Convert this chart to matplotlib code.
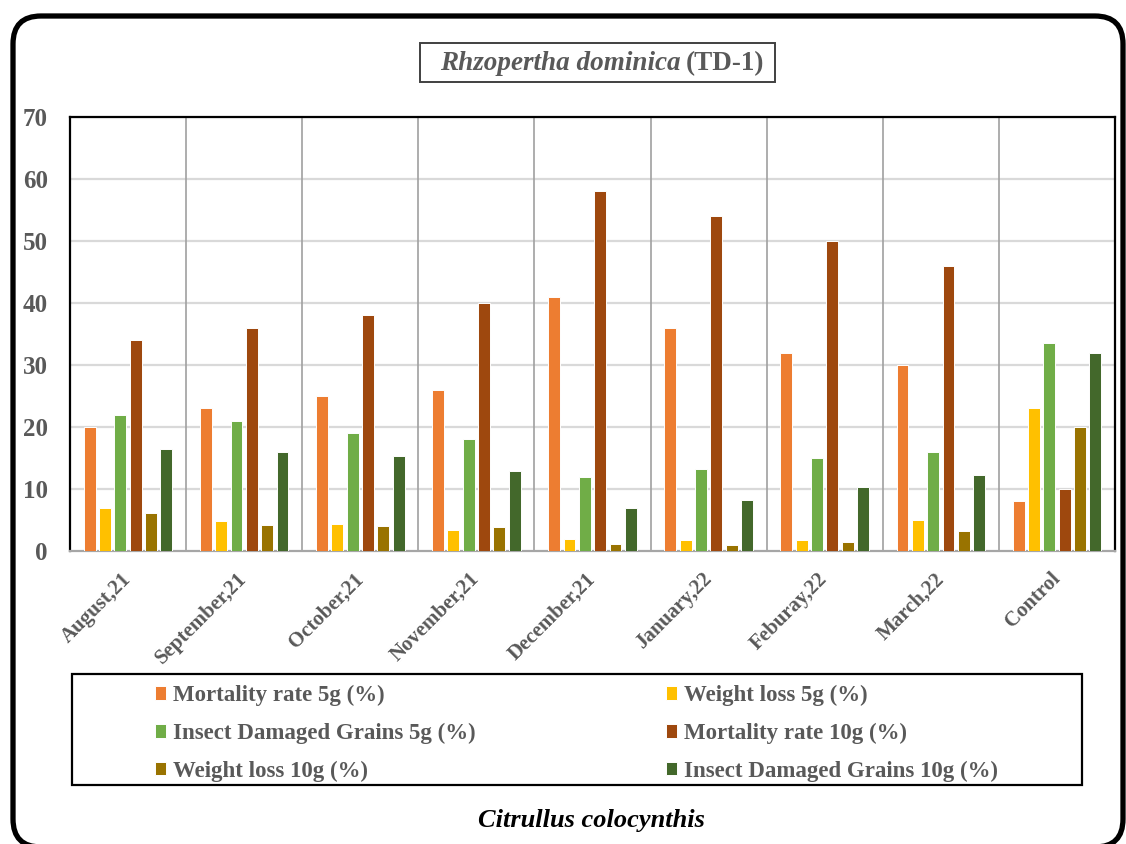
import matplotlib
matplotlib.use("Agg")
import matplotlib.pyplot as plt
import numpy as np
from matplotlib.patches import FancyBboxPatch, Rectangle

# ---- data -------------------------------------------------------------
categories = ["August,21", "September,21", "October,21", "November,21",
              "December,21", "January,22", "Feburay,22", "March,22", "Control"]

mortality_5g = [20, 23, 25, 26, 41, 36, 32, 30, 8]
weight_loss_5g = [7.0, 4.9, 4.4, 3.4, 2.0, 1.7, 1.8, 5.0, 23]
damaged_5g = [22, 21, 19, 18, 12, 13.2, 15, 16, 33.5]
mortality_10g = [34, 36, 38, 40, 58, 54, 50, 46, 10]
weight_loss_10g = [6.1, 4.2, 4.0, 3.9, 1.1, 0.9, 1.4, 3.3, 20]
damaged_10g = [16.4, 15.9, 15.4, 12.9, 7.0, 8.2, 10.3, 12.2, 32]

series_labels = ["Mortality rate 5g (%)", "Weight loss 5g (%)",
                 "Insect Damaged Grains 5g (%)", "Mortality rate 10g (%)",
                 "Weight loss 10g (%)", "Insect Damaged Grains 10g (%)"]
series_values = [mortality_5g, weight_loss_5g, damaged_5g,
                 mortality_10g, weight_loss_10g, damaged_10g]
series_colors = ["#ED7D31", "#FFC000", "#70AD47", "#9E480E", "#997300", "#43682B"]

y_ticks = [0, 10, 20, 30, 40, 50, 60, 70]

# ---- style ------------------------------------------------------------
plt.rcParams["font.family"] = ["Liberation Serif", "DejaVu Serif"]
TEXT_GRAY = "#595959"

W, H = 1126, 844
fig = plt.figure(figsize=(W / 100, H / 100), dpi=100)

def fx(px):
    return px / W

def fy(py):
    return 1 - py / H

ax = fig.add_axes([fx(70), fy(551), fx(1115) - fx(70), fy(117) - fy(551)])

x = np.arange(len(categories))
n = len(series_values)
step = 0.132
width = 0.103
handles = []
for i, (vals, col, lab) in enumerate(zip(series_values, series_colors, series_labels)):
    offs = (i - (n - 1) / 2) * step
    b = ax.bar(x + offs, vals, width=width, color=col, edgecolor="white",
               linewidth=0.7, label=lab, zorder=3)
    handles.append(b)

ax.set_xlim(-0.5, len(categories) - 0.5)
ax.set_ylim(0, 70)
ax.set_yticks(y_ticks)
ax.set_yticklabels([str(t) for t in y_ticks], fontsize=18, fontweight="bold",
                   color=TEXT_GRAY)
ax.set_xticks(x)
ax.set_xticklabels(categories, rotation=45, ha="right", va="center",
                   rotation_mode="anchor",
                   fontsize=15, fontweight="bold", color=TEXT_GRAY)
ax.tick_params(axis="both", length=0)
ax.tick_params(axis="y", pad=16)
ax.tick_params(axis="x", pad=18)

# gridlines: light horizontal, darker category separators
for t in y_ticks[1:]:
    ax.axhline(t, color="#D9D9D9", linewidth=1.6, zorder=1)
for s in np.arange(0.5, len(categories) - 0.5, 1):
    ax.axvline(s, color="#A0A0A0", linewidth=1.2, zorder=1)

for side in ["left", "top", "right"]:
    ax.spines[side].set_color("black")
    ax.spines[side].set_linewidth(1.6)
ax.spines["bottom"].set_color("#A6A6A6")
ax.spines["bottom"].set_linewidth(1.6)

# ---- title box --------------------------------------------------------
fig.patches.append(Rectangle((fx(420), fy(82)), fx(775) - fx(420), fy(43) - fy(82),
                             transform=fig.transFigure, fill=False,
                             edgecolor="#404040", linewidth=1.4))
fig.text(fx(681), fy(64), "Rhzopertha dominica", ha="right", va="center",
         fontsize=19.5, fontstyle="italic", fontweight="bold", color=TEXT_GRAY)
fig.text(fx(686), fy(64), "(TD-1)", ha="left", va="center",
         fontsize=19.5, fontweight="bold", color=TEXT_GRAY)

# ---- legend -----------------------------------------------------------
fig.patches.append(Rectangle((fx(72), fy(785)), fx(1082) - fx(72), fy(674) - fy(785),
                             transform=fig.transFigure, fill=False,
                             edgecolor="black", linewidth=1.6))
order = [0, 2, 4, 1, 3, 5]
leg = fig.legend([handles[i] for i in order], [series_labels[i] for i in order],
                 ncol=2, loc="upper left", bbox_to_anchor=(fx(155), fy(685)),
                 frameon=False, borderpad=0, borderaxespad=0,
                 handlelength=0.5, handleheight=0.55, handletextpad=0.28,
                 columnspacing=8.3, labelspacing=0.72,
                 prop={"family": "Liberation Serif", "weight": "bold", "size": 16.5})
for txt in leg.get_texts():
    txt.set_color(TEXT_GRAY)

# ---- bottom caption ---------------------------------------------------
fig.text(fx(591), fy(821), "Citrullus colocynthis", ha="center", va="center",
         fontsize=19, fontstyle="italic", fontweight="bold", color="black")

# ---- rounded outer frame ---------------------------------------------
frame = FancyBboxPatch((0.13, -0.03), 11.10, 8.31,
                       boxstyle="round,pad=0,rounding_size=0.28",
                       transform=fig.dpi_scale_trans, fill=False,
                       edgecolor="black", linewidth=3.8, clip_on=False)
fig.patches.append(frame)

fig.savefig("out.png", dpi=100)
